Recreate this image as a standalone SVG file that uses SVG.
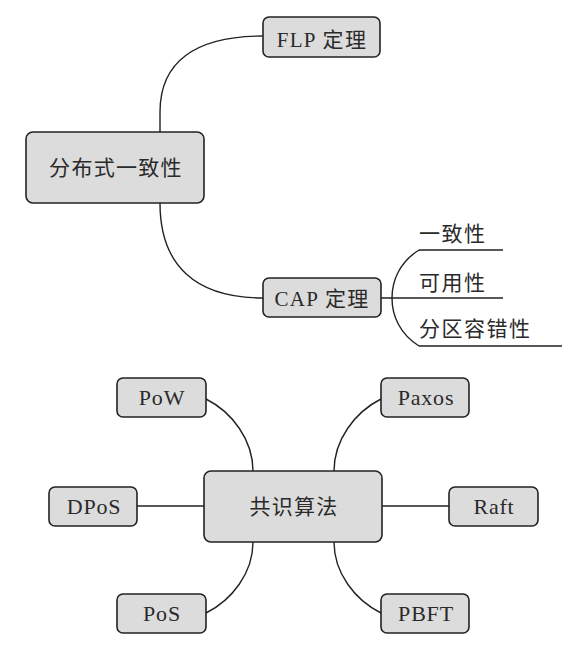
<svg xmlns="http://www.w3.org/2000/svg" width="580" height="655" viewBox="0 0 580 655">
<style>
.box{fill:#dcdcdc;stroke:#222;stroke-width:1.6}
.t{font-family:"Liberation Serif","Noto Sans CJK SC",serif;font-size:21px;fill:#2a2a2a;text-anchor:middle;letter-spacing:1.3px}
.e{font-size:22px;letter-spacing:0.8px}
.l{font-family:"Liberation Serif","Noto Sans CJK SC",serif;font-size:21px;fill:#2a2a2a;letter-spacing:1.5px}
.c{fill:none;stroke:#222;stroke-width:1.4}
</style>
<rect width="580" height="655" fill="#fff"/>
<g id="connectors">
<path class="c" d="M160,132 L160,112 C160,62 195,36 263,36"/>
<path class="c" d="M160,203 C160,265 195,298 263,298"/>
<path class="c" d="M381,298 L503,298"/>
<path class="c" d="M419,250 L503,250"/>
<path class="c" d="M419,346 L562,346"/>
<path class="c" d="M419,250 C400,262 392,280 392,298 C392,316 400,334 419,346"/>
<path class="c" d="M137,506 L204,506"/>
<path class="c" d="M382,506 L449,506"/>
<path class="c" d="M206,399 C232,412 253,440 253,471"/>
<path class="c" d="M334,471 C334,440 355,412 381,399"/>
<path class="c" d="M253,542 C253,573 232,600 206,613"/>
<path class="c" d="M334,542 C334,573 355,600 381,613"/>
</g>
<g id="n-dist"><rect class="box" x="26" y="132" width="178" height="71" rx="7"/><text class="t" x="116" y="175">分布式一致性</text></g>
<g id="n-flp"><rect class="box" x="263" y="17" width="117" height="40" rx="6"/><text class="t" x="322" y="47">FLP 定理</text></g>
<g id="n-cap"><rect class="box" x="263" y="278" width="118" height="39" rx="6"/><text class="t" x="322" y="306">CAP 定理</text></g>
<g id="n-c"><text class="l" x="419" y="241">一致性</text></g>
<g id="n-a"><text class="l" x="419" y="290">可用性</text></g>
<g id="n-p"><text class="l" x="419" y="336">分区容错性</text></g>
<g id="n-consensus"><rect class="box" x="204" y="471" width="178" height="71" rx="7"/><text class="t" x="294" y="514">共识算法</text></g>
<g id="n-pow"><rect class="box" x="117" y="378" width="89" height="39" rx="6"/><text class="t e" x="162" y="405">PoW</text></g>
<g id="n-paxos"><rect class="box" x="381" y="378" width="88" height="39" rx="6"/><text class="t e" x="426" y="405">Paxos</text></g>
<g id="n-dpos"><rect class="box" x="49" y="487" width="88" height="39" rx="6"/><text class="t e" x="94" y="514">DPoS</text></g>
<g id="n-raft"><rect class="box" x="449" y="487" width="89" height="39" rx="6"/><text class="t e" x="494" y="514">Raft</text></g>
<g id="n-pos"><rect class="box" x="117" y="594" width="89" height="39" rx="6"/><text class="t e" x="162" y="621">PoS</text></g>
<g id="n-pbft"><rect class="box" x="381" y="594" width="88" height="39" rx="6"/><text class="t e" x="426" y="621">PBFT</text></g>
</svg>
